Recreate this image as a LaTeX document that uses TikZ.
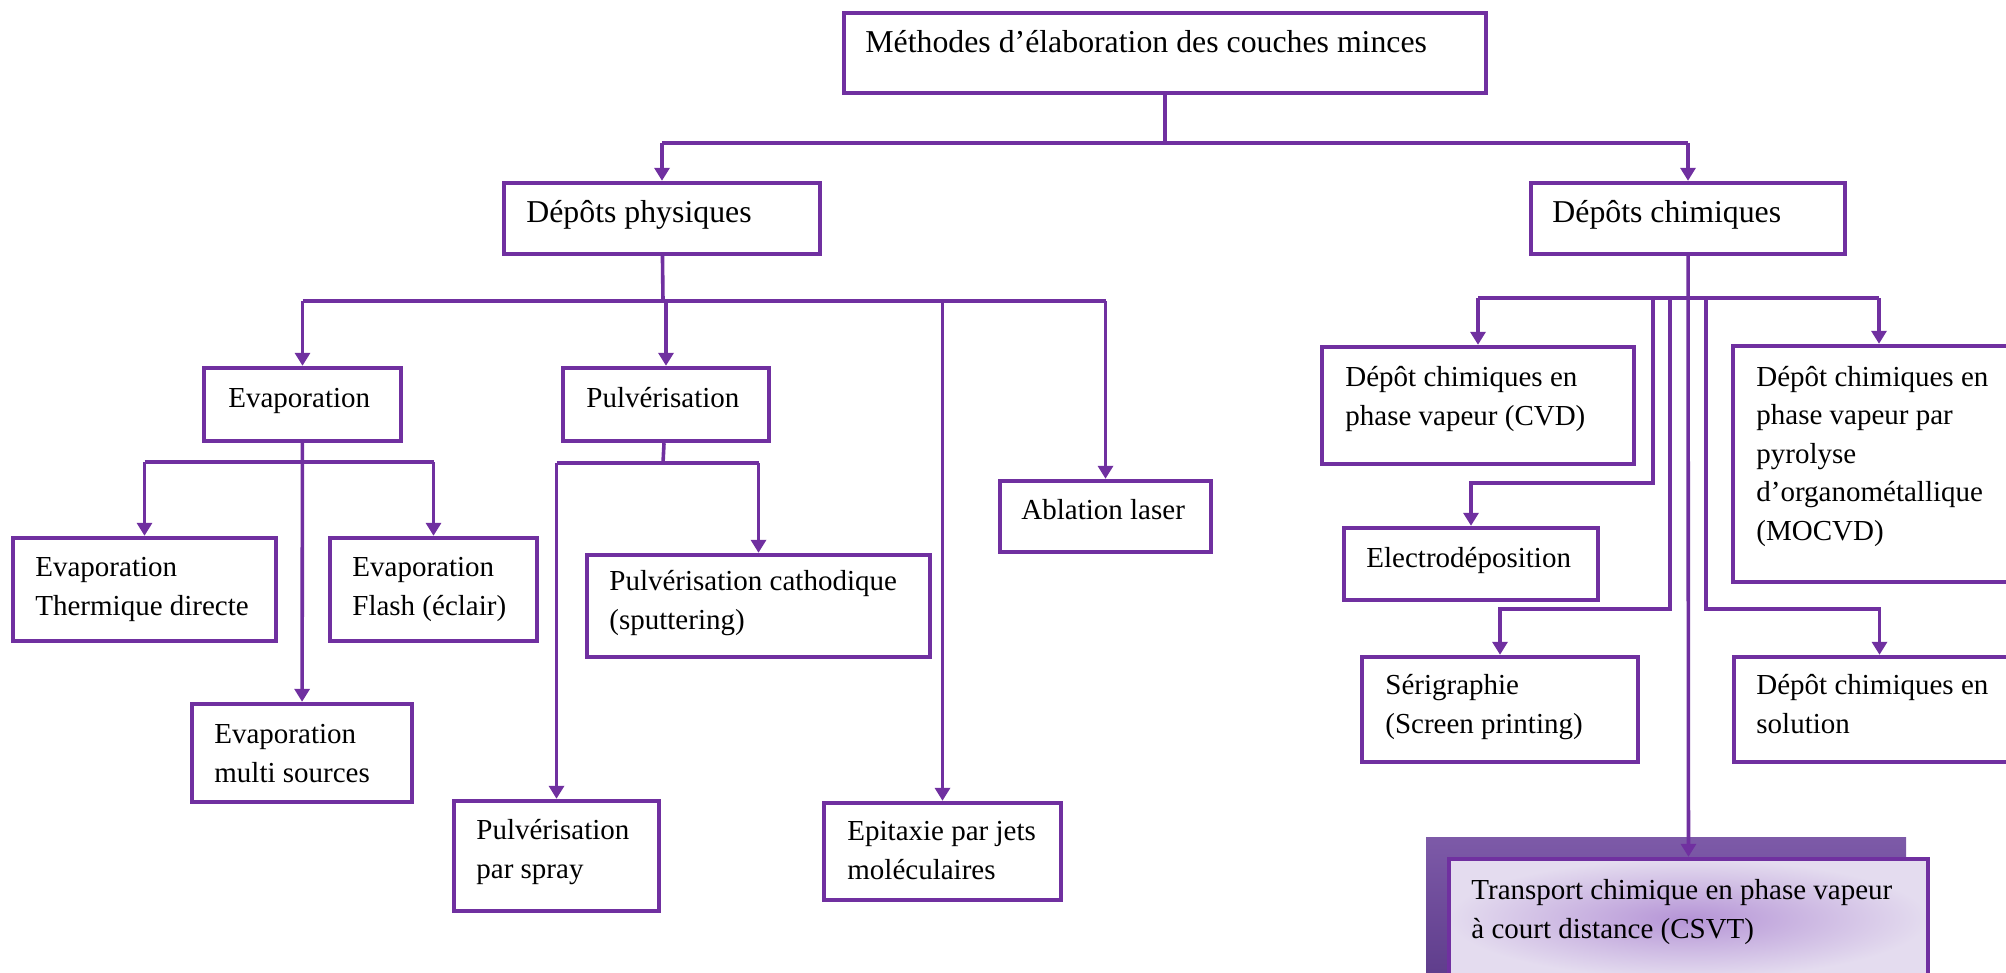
\documentclass[tikz,border=0pt]{standalone}
\usepackage{fontspec}
\setmainfont{Liberation Serif}
\usetikzlibrary{arrows.meta,fit}
\definecolor{methc}{HTML}{7030A0}
\definecolor{shadowc}{HTML}{7D5AA8}
\definecolor{shadowd}{HTML}{5E3C8B}
\definecolor{glowc}{HTML}{B594D6}
\definecolor{paperc}{HTML}{E4DCEF}
\tikzset{
  box/.style={draw=methc, line width=2.2pt, inner sep=0pt},
  txt/.style={anchor=base west, align=left, inner sep=0pt, font=\fontsize{14.5pt}{19.25pt}\selectfont},
  bigtxt/.style={txt, font=\fontsize{15.9pt}{19.25pt}\selectfont},
  conn/.style={draw=methc, line width=1.8pt},
  arr/.style={conn, -{Triangle[width=7.5pt,length=6.5pt]}},
}
\begin{document}
\begin{tikzpicture}[x=0.5pt, y=-0.5pt]
\useasboundingbox (0,0) rectangle (2006,973);
\node[box, fit={(844,13) (1486,93)}] (top) {};
\node[box, fit={(504,183) (820,254)}] (phys) {};
\node[box, fit={(1531,183) (1845,254)}] (chim) {};
\node[box, fit={(204,368) (401,441)}] (evap) {};
\node[box, fit={(563,368) (769,441)}] (pulv) {};
\node[box, fit={(13,538) (276,641)}] (therm) {};
\node[box, fit={(330,538) (537,641)}] (flash) {};
\node[box, fit={(192,704) (412,802)}] (multi) {};
\node[box, fit={(587,555) (930,657)}] (cath) {};
\node[box, fit={(454,801) (659,911)}] (spray) {};
\node[box, fit={(824,803) (1061,900)}] (epit) {};
\node[box, fit={(1000,481) (1211,552)}] (abl) {};
\node[box, fit={(1322,347) (1634,464)}] (cvd) {};
\node[box, fit={(1733,346) (2025,582)}] (mocvd) {};
\node[box, fit={(1344,528) (1598,600)}] (electro) {};
\node[box, fit={(1362,657) (1638,762)}] (seri) {};
\node[box, fit={(1734,657) (2025,762)}] (sol) {};
\fill[top color=shadowc, bottom color=shadowd] (1426,837) rectangle (1906,980);
\node[box, fit={(1449,859) (1928,978)}, shading=radial, inner color=glowc, outer color=paperc] (csvt) {};

\node[bigtxt] (top-t) at (865,53) {Méthodes d’élaboration des couches minces};
\node[bigtxt] (phys-t) at (526,223) {Dépôts physiques};
\node[bigtxt] (chim-t) at (1552,223) {Dépôts chimiques};
\node[txt] (evap-t) at (228,407) {Evaporation};
\node[txt] (pulv-t) at (586,407) {Pulvérisation};
\node[txt] (therm-t) at (35,615) {Evaporation\\Thermique directe};
\node[txt] (flash-t) at (352,615) {Evaporation\\Flash (éclair)};
\node[txt] (multi-t) at (214,782) {Evaporation\\multi sources};
\node[txt] (cath-t) at (609,629) {Pulvérisation cathodique\\(sputtering)};
\node[txt] (spray-t) at (476,878) {Pulvérisation\\par spray};
\node[txt] (epit-t) at (847,879) {Epitaxie par jets\\moléculaires};
\node[txt] (abl-t) at (1021,519) {Ablation laser};
\node[txt] (cvd-t) at (1345,425) {Dépôt chimiques en\\phase vapeur (CVD)};
\node[txt] (mocvd-t) at (1756,540) {Dépôt chimiques en\\phase vapeur par\\pyrolyse\\d’organométallique\\(MOCVD)};
\node[txt] (electro-t) at (1366,567) {Electrodéposition};
\node[txt] (seri-t) at (1385,733) {Sérigraphie\\(Screen printing)};
\node[txt] (sol-t) at (1756,733) {Dépôt chimiques en\\solution};
\node[txt] (csvt-t) at (1471,938) {Transport chimique en phase vapeur\\à court distance (CSVT)};

\coordinate (j0) at (1165,143);
\draw[conn] (top) -- (j0);
\draw[conn] (phys |- j0) -- (chim |- j0);
\draw[arr] (phys |- j0) -- (phys);
\draw[arr] (chim |- j0) -- (chim);

\coordinate (j1) at (663,301);
\draw[conn] (phys) -- (j1);
\draw[conn] (evap |- j1) -- (abl |- j1);
\draw[arr] (evap |- j1) -- (evap);
\draw[arr] (pulv |- j1) -- (pulv);
\draw[arr] (epit |- j1) -- (epit);
\draw[arr] (abl |- j1) -- (abl);

\coordinate (j2) at (303,462);
\draw[arr] (evap) -- (multi);
\draw[conn] (therm |- j2) -- (flash |- j2);
\draw[arr] (therm |- j2) -- (therm);
\draw[arr] (flash |- j2) -- (flash);

\coordinate (j3) at (663,463);
\draw[conn] (pulv) -- (j3);
\draw[conn] (spray |- j3) -- (cath |- j3);
\draw[arr] (spray |- j3) -- (spray);
\draw[arr] (cath |- j3) -- (cath);

\coordinate (j4) at (1690,298);
\draw[arr] (chim) -- (csvt);
\draw[conn] (cvd |- j4) -- (mocvd |- j4);
\draw[arr] (cvd |- j4) -- (cvd);
\draw[arr] (mocvd |- j4) -- (mocvd);
\coordinate (e1) at (1653,298);
\coordinate (e2) at (1653,483);
\draw[arr] (e1) -- (e2) -| (electro);
\coordinate (s1) at (1670,298);
\coordinate (s2) at (1670,609);
\draw[arr] (s1) -- (s2) -| (seri);
\coordinate (l1) at (1706,298);
\coordinate (l2) at (1706,609);
\draw[arr] (l1) -- (l2) -| (sol);
\end{tikzpicture}
\end{document}
